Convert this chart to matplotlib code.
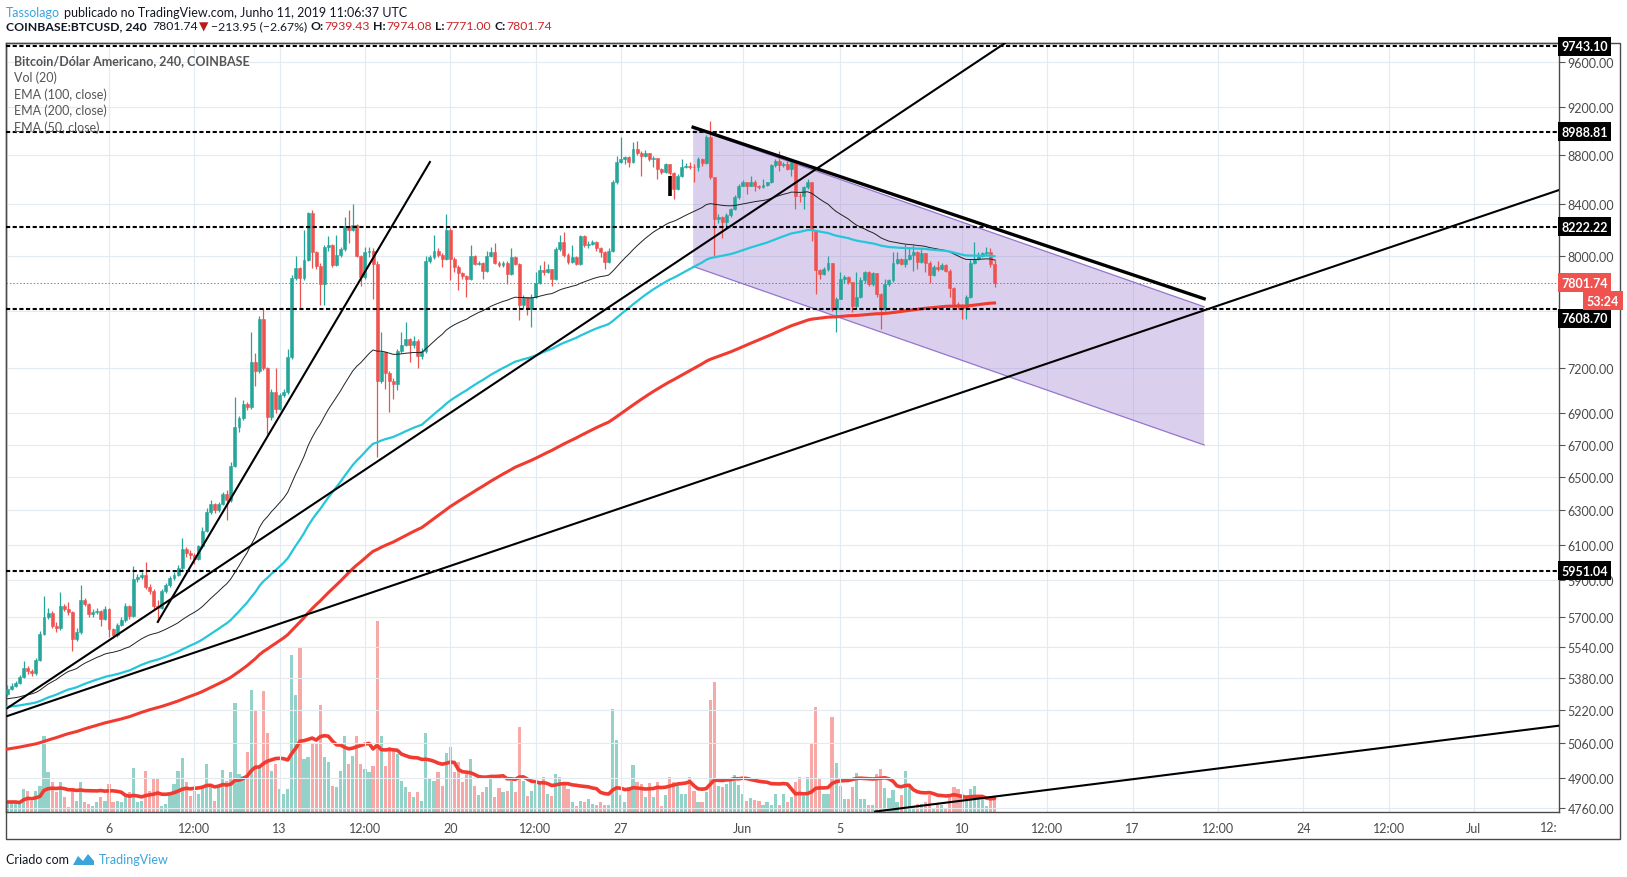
import numpy as np
import pandas as pd
import matplotlib
matplotlib.use("Agg")
import matplotlib.pyplot as plt
import matplotlib.transforms as mtransforms
from matplotlib.ticker import FixedLocator, NullLocator, FixedFormatter
from matplotlib.patches import Rectangle, Polygon

plt.rcParams['font.family'] = ['Lato', 'DejaVu Sans']

W, H = 1627, 878

# ---- data (COINBASE:BTCUSD, 4h) ----
start = '2019-05-01 20:00'     # first visible candle
first_open = 5300

closes = [
    5325, 5340, 5355, 5385, 5430, 5415, 5405, 5475, 5610, 5700,
    5720, 5650, 5640, 5760, 5742, 5723, 5580, 5620, 5790, 5770,
    5715, 5725, 5730, 5690, 5740, 5635, 5600, 5655, 5680, 5760,
    5705, 5906, 5915, 5925, 5860, 5840, 5760, 5745, 5840, 5870,
    5910, 5930, 5965, 6075, 6050, 6040, 6015, 6090, 6180, 6291,
    6337, 6300, 6337, 6397, 6360, 6569, 6811, 6870, 6961, 6940,
    7240, 7180, 7540, 7200, 6875, 7038, 6930, 7020, 7040, 7274,
    7833, 7908, 7833, 7972, 8330, 8027, 7928, 7792, 8065, 8080,
    7935, 8010, 8050, 8226, 8200, 8240, 8000, 7840, 8030, 8040,
    7940, 7116, 7310, 7170, 7110, 7090, 7320, 7360, 7400, 7360,
    7385, 7280, 7320, 7960, 7990, 8040, 8010, 7980, 8200, 7980,
    7915, 7870, 7850, 7830, 8002, 7940, 7950, 7890, 8002, 8030,
    7950, 7930, 7950, 7866, 7990, 7940, 7637, 7697, 7613, 7700,
    7800, 7895, 7880, 7900, 7830, 8054, 8105, 8004, 7954, 7990,
    7940, 8150, 8080, 8090, 8105, 8060, 8030, 7954, 8040, 8573,
    8736, 8764, 8780, 8740, 8846, 8815, 8790, 8810, 8760, 8770,
    8681, 8660, 8720, 8650, 8520, 8627, 8700, 8710, 8700, 8695,
    8760, 8727, 8944, 8614, 8284, 8300, 8260, 8316, 8362, 8453,
    8547, 8573, 8547, 8580, 8540, 8533, 8550, 8573, 8714, 8750,
    8714, 8722, 8681, 8741, 8466, 8461, 8533, 8573, 8194, 7892,
    7867, 7904, 7944, 7613, 7685, 7830, 7843, 7806, 7630, 7700,
    7820, 7880, 7790, 7870, 7720, 7613, 7790, 7820, 7950, 7975,
    7940, 7977, 8005, 8030, 7954, 8020, 7950, 7860, 7920, 7900,
    7935, 7890, 7760, 7650, 7640, 7620, 7700, 7950, 7980, 8000,
    8020, 8030, 7939.43, 7801.74,
]
highs = [
    5345, 5355, 5368, 5395, 5465, 5440, 5425, 5485, 5625, 5810,
    5745, 5730, 5670, 5836, 5770, 5780, 5730, 5640, 5870, 5800,
    5775, 5740, 5745, 5735, 5755, 5745, 5640, 5665, 5700, 5775,
    5765, 5980, 5935, 5945, 5998, 5875, 5850, 5790, 5850, 5885,
    5920, 5945, 5985, 6140, 6085, 6070, 6050, 6100, 6200, 6310,
    6360, 6345, 6350, 6410, 6420, 6590, 7005, 6880, 6985, 6975,
    7450, 7300, 7560, 7620, 7210, 7060, 7200, 7035, 7060, 7330,
    7860, 8002, 7920, 8200, 8340, 8350, 8040, 7950, 8080, 8150,
    8090, 8160, 8070, 8300, 8350, 8400, 8245, 8010, 8070, 8070,
    8060, 7960, 7449, 7320, 7180, 7130, 7330, 7449, 7520, 7410,
    7420, 7400, 7340, 8002, 8010, 8160, 8060, 8020, 8320, 8210,
    7990, 7930, 7880, 7860, 8080, 8010, 7965, 7955, 8040, 8065,
    8100, 7960, 7965, 7960, 8060, 8000, 7950, 7710, 7700, 7720,
    7880, 7930, 7960, 7940, 7905, 8070, 8156, 8180, 8020, 8080,
    8000, 8160, 8156, 8110, 8120, 8110, 8070, 8040, 8060, 8590,
    8790, 8944, 8790, 8790, 8902, 8910, 8830, 8840, 8815, 8790,
    8775, 8690, 8730, 8725, 8660, 8640, 8760, 8730, 8740, 8720,
    8780, 8770, 8960, 9085, 8620, 8320, 8310, 8330, 8370, 8470,
    8560, 8590, 8580, 8627, 8590, 8550, 8600, 8580, 8720, 8764,
    8830, 8735, 8750, 8764, 8750, 8490, 8545, 8600, 8580, 8200,
    7900, 7915, 8000, 7950, 7700, 7880, 7860, 7850, 7810, 7880,
    7840, 7890, 7890, 7880, 7875, 7730, 7830, 7830, 8030, 8030,
    7985, 8090, 8070, 8080, 8035, 8050, 8025, 7960, 7930, 7960,
    7945, 7940, 7900, 7770, 7660, 7650, 7710, 7980, 8105, 8030,
    8030, 8070, 8060, 7974.08,
]
lows = [
    5290, 5318, 5335, 5350, 5380, 5400, 5390, 5395, 5465, 5600,
    5690, 5640, 5620, 5630, 5730, 5710, 5520, 5570, 5610, 5760,
    5700, 5700, 5715, 5650, 5680, 5590, 5585, 5590, 5650, 5670,
    5690, 5700, 5890, 5905, 5850, 5820, 5740, 5672, 5740, 5830,
    5860, 5900, 5920, 5955, 6030, 6020, 5990, 6010, 6080, 6170,
    6280, 6285, 6290, 6330, 6240, 6350, 6560, 6780, 6860, 6920,
    6930, 7080, 7170, 7190, 6770, 6860, 6900, 6920, 7010, 7030,
    7260, 7820, 7620, 7820, 7960, 7908, 7900, 7640, 7640, 8040,
    7920, 7925, 7990, 8040, 8100, 8190, 7990, 7780, 7830, 7990,
    7680, 6625, 7100, 7061, 6910, 6995, 7050, 7300, 7350, 7240,
    7340, 7200, 7260, 7300, 7950, 7980, 7990, 7915, 7970, 7820,
    7880, 7750, 7830, 7700, 7820, 7930, 7935, 7830, 7880, 7990,
    7940, 7915, 7920, 7790, 7860, 7930, 7530, 7620, 7570, 7483,
    7690, 7790, 7860, 7870, 7780, 7820, 8040, 7990, 7940, 7945,
    7930, 7935, 8070, 8060, 8080, 8040, 7990, 7900, 7950, 8030,
    8560, 8730, 8720, 8700, 8730, 8800, 8627, 8780, 8750, 8700,
    8600, 8640, 8650, 8630, 8440, 8510, 8620, 8690, 8680, 8573,
    8668, 8710, 8720, 8600, 7992, 8250, 8140, 8220, 8300, 8350,
    8440, 8540, 8480, 8540, 8500, 8520, 8525, 8540, 8565, 8700,
    8668, 8700, 8670, 8627, 8362, 8420, 8362, 8520, 8112, 7721,
    7830, 7860, 7890, 7600, 7450, 7680, 7800, 7795, 7590, 7610,
    7690, 7800, 7780, 7780, 7700, 7471, 7600, 7780, 7810, 7940,
    7930, 7920, 7970, 7890, 7900, 7950, 7880, 7800, 7850, 7890,
    7895, 7880, 7700, 7630, 7610, 7542, 7542, 7690, 7940, 7970,
    7990, 8010, 7920, 7771.00,
]
# volume, thousands of BTC
volumes = [
    1.0, 1.0, 1.0, 0.8, 2.3, 2.1, 1.1, 2.1, 2.6, 7.6,
    4.0, 3.0, 2.0, 3.0, 1.5, 0.5, 2.1, 1.1, 3.0, 1.0,
    0.8, 0.6, 1.0, 1.5, 1.1, 2.8, 1.0, 1.1, 1.0, 1.6,
    2.0, 4.4, 1.0, 1.1, 4.1, 2.1, 3.4, 3.4, 0.6, 0.8,
    1.8, 2.8, 4.1, 5.4, 3.0, 1.6, 2.1, 1.8, 2.6, 4.8,
    2.6, 1.1, 2.6, 4.2, 3.1, 4.0, 10.9, 3.8, 3.6, 6.0,
    12.2, 10.1, 4.6, 12.1, 7.9, 4.1, 4.8, 2.3, 1.8, 2.3,
    15.7, 11.7, 16.4, 5.3, 5.5, 6.8, 6.8, 10.7, 5.5, 5.0,
    2.6, 2.5, 4.1, 7.6, 4.8, 5.6, 7.6, 4.8, 4.3, 4.0,
    4.6, 19.1, 7.6, 4.6, 6.5, 6.1, 5.8, 3.1, 2.5, 2.0,
    1.5, 2.0, 1.1, 7.9, 3.3, 3.1, 4.0, 2.6, 5.9, 6.5,
    4.0, 5.0, 3.0, 3.8, 5.3, 2.6, 1.7, 2.0, 2.5, 3.3,
    1.5, 2.4, 2.0, 2.1, 3.1, 2.0, 8.5, 3.1, 1.6, 2.1,
    2.8, 2.8, 3.5, 1.8, 1.6, 3.8, 3.5, 2.8, 2.3, 1.0,
    0.6, 1.1, 1.0, 1.3, 0.8, 0.7, 1.0, 0.7, 0.7, 10.3,
    7.2, 1.7, 1.0, 2.5, 4.7, 3.0, 2.8, 1.5, 2.9, 1.5,
    3.0, 0.6, 1.7, 3.5, 3.0, 2.8, 1.8, 1.8, 3.5, 2.1,
    1.0, 1.0, 2.0, 11.2, 13.0, 2.6, 2.5, 2.8, 3.1, 3.7,
    2.7, 1.8, 1.1, 1.4, 1.2, 1.1, 0.7, 1.0, 0.7, 1.8,
    0.7, 1.8, 1.0, 1.5, 3.0, 3.5, 1.6, 3.5, 6.9, 10.5,
    3.4, 1.8, 1.8, 9.5, 4.9, 2.6, 1.3, 1.3, 2.5, 3.9,
    1.3, 1.3, 0.7, 0.7, 3.8, 4.3, 2.4, 1.4, 2.2, 1.0,
    1.7, 4.1, 2.6, 0.6, 0.8, 0.8, 1.0, 1.7, 0.3, 0.8,
    0.7, 0.4, 1.5, 2.5, 2.3, 1.8, 1.5, 2.3, 2.6, 1.3,
    1.6, 0.6, 1.3, 1.5,
]
# EMA values already reached at the first visible candle
ema_start = {50: 5275, 100: 5235, 200: 5030}

levels = [9743.10, 8988.81, 8222.22, 7608.70, 5951.04]
last_price = 7801.74
countdown = '53:24'
price_ticks = [4760, 4900, 5060, 5220, 5380, 5540, 5700, 5900, 6100, 6300,
               6500, 6700, 6900, 7200, 7600, 8000, 8400, 8800, 9200, 9600]
hidden_tick = 7600   # covered by the price boxes in the screenshot
date_ticks = ['2019-05-06 00:00', '2019-05-09 12:00', '2019-05-13 00:00', '2019-05-16 12:00',
              '2019-05-20 00:00', '2019-05-23 12:00', '2019-05-27 00:00', '2019-06-01 00:00',
              '2019-06-05 00:00', '2019-06-10 00:00', '2019-06-13 12:00', '2019-06-17 00:00',
              '2019-06-20 12:00', '2019-06-24 00:00', '2019-06-27 12:00', '2019-07-01 00:00']
date_labels = ['6', '12:00', '13', '12:00', '20', '12:00', '27', 'Jun',
               '5', '10', '12:00', '17', '12:00', '24', '12:00', 'Jul']

# drawings: anchors as (bar number, price)
trend_a = [(37, 5672), (104, 8739)]
trend_b = [(0, 5231), (245.5, 9770)]
trend_c = [(0, 5192), (382, 8512)]
trend_d = [(213.6, 4746), (382, 5145)]
resist = [(168.8, 9029), (294.6, 7685)]
chan_top = [(168.8, 9023), (294.6, 7627)]
chan_bot = [(168.8, 7922), (294.6, 6698)]
marked_bar = (163, 8466, 8627)

# ---- derived series ----
c = np.array(closes, float)
o = np.r_[first_open, c[:-1]]
hi = np.maximum(np.array(highs, float), np.maximum(o, c))
lo = np.minimum(np.array(lows, float), np.minimum(o, c))
x = np.arange(len(c))
up = c >= o
GREEN, RED = '#26a69a', '#ef5350'
col = np.where(up, GREEN, RED)

emas = {n: pd.Series([s] + closes).ewm(span=n, adjust=False).mean().values[1:]
        for n, s in ema_start.items()}
vol_ma = pd.Series(volumes).rolling(20, min_periods=1).mean()

t0 = pd.Timestamp(start)
tick_x = (pd.to_datetime(date_ticks, format='%Y-%m-%d %H:%M') - t0) / pd.Timedelta(hours=4)

# ---- figure ----
fig = plt.figure(figsize=(W / 100, H / 100), dpi=100)
rect = [6 / W, 1 - 813 / H, 1553 / W, 769 / H]
axv = fig.add_axes(rect, zorder=0)
ax = fig.add_axes(rect, zorder=1)
ax.patch.set_alpha(0)
XL = (-0.36, 381.96)

# volume pane (bottom quarter)
vcol = np.where(up, '#92d2c9', '#f6a9a7')
axv.bar(x, volumes, width=0.78, color=vcol, linewidth=0)
axv.plot(x, vol_ma, color='#f23b30', lw=2.6, solid_capstyle='round')
axv.set_xlim(*XL)
axv.set_ylim(0, 76.9)
axv.axis('off')

# price pane
ax.set_yscale('log')
ax.set_xlim(*XL)
ax.set_ylim(4744, 9773)

ax.fill([chan_top[0][0], chan_top[1][0], chan_bot[1][0], chan_bot[0][0]],
        [chan_top[0][1], chan_top[1][1], chan_bot[1][1], chan_bot[0][1]],
        color='#9575cd', alpha=0.34, lw=0, zorder=1)
for seg in (chan_top, chan_bot):
    ax.plot(*zip(*seg), color='#9575cd', lw=0.9, zorder=1.2)

ax.vlines(x, lo, hi, colors=col, lw=0.9, zorder=3)
ax.bar(x, np.abs(c - o), bottom=np.minimum(o, c), width=0.72, color=col,
       edgecolor=col, linewidth=0.4, zorder=3.1)
ax.vlines(marked_bar[0], marked_bar[1], marked_bar[2], colors='black', lw=2.6, zorder=3.2)

ax.plot(x, emas[50], color='#222222', lw=0.7, zorder=4)
ax.plot(x, emas[100], color='#26c6da', lw=1.6, zorder=4)
ax.plot(x, emas[200], color='#f23b30', lw=2.2, zorder=4)

for seg in (trend_a, trend_b, trend_c, trend_d):
    ax.plot(*zip(*seg), color='black', lw=1.5, zorder=5)
ax.plot(*zip(*resist), color='black', lw=2.4, zorder=5)

for lv in levels:
    ax.axhline(lv, color='black', lw=1.5, ls=(0, (2, 1.2)), zorder=6)
ax.axhline(last_price, color=RED, lw=0.7, ls=(0, (1.5, 2)), zorder=2)

# axes styling
ax.yaxis.tick_right()
ax.yaxis.set_major_locator(FixedLocator(price_ticks))
ax.yaxis.set_minor_locator(NullLocator())
ax.yaxis.set_major_formatter(FixedFormatter(
    ['' if v == hidden_tick else f'{v:.2f}' for v in price_ticks]))
ax.tick_params(axis='y', which='both', length=4, width=0.8, color='#555555',
               labelsize=9, labelcolor='#4a4a4a', pad=2)
ax.set_xticks(tick_x)
ax.set_xticklabels(date_labels)
ax.tick_params(axis='x', length=0, labelsize=9, labelcolor='#4a4a4a', pad=7)
ax.grid(True, color='#e3eaf0', lw=0.8, zorder=0)
ax.set_axisbelow(True)
for s in ax.spines.values():
    s.set_color('#4a4a4a')
    s.set_linewidth(1)
ax.annotate('12:', xy=(1, 0), xycoords='axes fraction', xytext=(-1, -15),
            textcoords='offset pixels', ha='right', va='center',
            fontsize=9, color='#4a4a4a')

# price labels on the right scale (TradingView shifts them apart when they collide)
bl = mtransforms.blended_transform_factory(ax.transAxes, ax.transData)
label_shift = {7608.70: -9}


def price_box(y, text, fc, dy=0, dx=2, ha='left'):
    ax.annotate(text, xy=(1, y), xycoords=bl, xytext=(dx, dy),
                textcoords='offset pixels', color='white', fontsize=9,
                fontweight='bold', ha=ha, va='center', zorder=10,
                annotation_clip=False,
                bbox=dict(boxstyle='square,pad=0.28', fc=fc, ec='none'))


for lv in levels:
    price_box(lv, f'{lv:.2f}', 'black', dy=label_shift.get(lv, 0))
price_box(last_price, f'{last_price:.2f}', RED)
price_box(last_price, countdown, RED, dy=-18, dx=60, ha='right')

# outer frame
fig.add_artist(Rectangle((6, H - 840), 1614, 796, transform=None, fill=False,
                         ec='#4a4a4a', lw=1))

# ---- texts ----
renderer = fig.canvas.get_renderer()


def runs(x0, y0, parts, size):
    xx = x0
    for s, color, weight, gap in parts:
        t = fig.text(xx / W, 1 - y0 / H, s, color=color, fontsize=size,
                     fontweight=weight, ha='left', va='center')
        xx += t.get_window_extent(renderer).width + gap


DARK = '#131722'
VAL = '#c9262c'
runs(6, 13, [('Tassolago', '#3aa4dd', 'normal', 4),
             ('publicado no TradingView.com, Junho 11, 2019 11:06:37 UTC', DARK, 'normal', 0)], 9)
runs(6, 27, [('COINBASE:BTCUSD, 240', DARK, 'bold', 6),
             ('7801.74', DARK, 'normal', 1),
             ('▼', '#b71c1c', 'normal', 2),
             ('\u2212213.95 (\u22122.67%)', DARK, 'normal', 4),
             ('O:', DARK, 'bold', 0), ('7939.43', VAL, 'normal', 4),
             ('H:', DARK, 'bold', 0), ('7974.08', VAL, 'normal', 4),
             ('L:', DARK, 'bold', 0), ('7771.00', VAL, 'normal', 4),
             ('C:', DARK, 'bold', 0), ('7801.74', VAL, 'normal', 0)], 8.8)

legend = ['Bitcoin/Dólar Americano, 240, COINBASE', 'Vol (20)', 'EMA (100, close)',
          'EMA (200, close)', 'EMA (50, close)']
for k, s in enumerate(legend):
    fig.text(14 / W, 1 - (61 + 16.7 * k) / H, s, fontsize=9, color='#555555',
             fontweight='bold' if k == 0 else 'normal', ha='left', va='center')

runs(6, 860, [('Criado com', DARK, 'normal', 30), ('TradingView', '#3aa4dd', 'normal', 0)], 9)
cloud = Polygon([(73, H - 866), (78, H - 857), (83, H - 862), (88, H - 855),
                 (94, H - 862), (94, H - 866)], closed=True, transform=None,
                fc='#3aa4dd', ec='none')
fig.add_artist(cloud)

fig.savefig('out.png', dpi=100)
